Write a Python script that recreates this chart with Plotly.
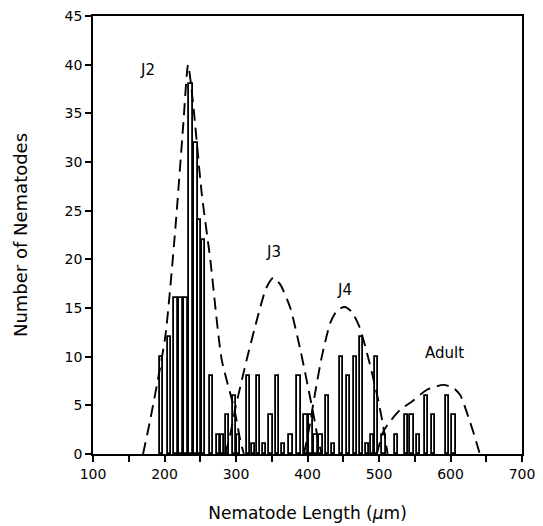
import plotly.graph_objects as go

# Histogram bars: bin centre (µm) and count
bar_length = [196, 207, 216, 223, 230, 237, 244, 249, 255, 266, 275, 281, 288, 298, 304,
              317, 324, 332, 340, 349, 358, 366, 377, 388, 398, 405, 412, 419, 428, 436,
              447, 457, 467, 476, 484, 491, 497, 507, 525, 538, 546, 555, 566, 576, 596, 605]
bar_count = [10, 12, 16, 16, 16, 38, 32, 24, 22, 8, 2, 2, 4, 6, 2,
             8, 1, 8, 1, 4, 8, 1, 2, 8, 4, 4, 2, 2, 6, 1,
             10, 8, 10, 12, 1, 2, 10, 2, 2, 4, 4, 2, 6, 4, 6, 4]

j2_x = [170, 180, 201, 215, 226, 233, 240, 252, 264, 280, 298, 306, 311]
j2_y = [0, 3.5, 12, 23, 33.6, 40, 36, 26.8, 20, 9.7, 4.5, 1.4, 0]
j3_x = [285, 292, 300, 315, 330, 342, 352, 362, 376, 390, 408, 415, 420]
j3_y = [0, 2, 5, 9.7, 14, 17, 18.1, 17.4, 15, 10.7, 4.2, 1.4, 0]
j4_x = [395, 402, 410, 420, 432, 442, 452, 462, 473, 487, 499, 506, 512]
j4_y = [0, 2.5, 6, 10, 13.5, 14.8, 15.1, 14.6, 13, 9.3, 5.5, 2.8, 0]
ad_x = [497, 506, 515, 529, 548, 567, 590, 604, 614, 625, 633, 641]
ad_y = [0, 2.3, 3.3, 4.5, 5.5, 6.6, 7.1, 6.8, 6.0, 3.8, 2.0, 0]

labels = ["J2", "J3", "J4", "Adult"]
label_x = [176, 352, 452, 592]
label_y = [39.5, 20.8, 16.9, 10.4]

x_ticks = list(range(100, 701, 50))
x_text = [str(v) if v % 100 == 0 else "" for v in x_ticks]
y_ticks = list(range(0, 46, 5))

FONT = "DejaVu Sans, Liberation Sans, sans-serif"
fig = go.Figure()
fig.add_trace(go.Bar(x=bar_length, y=bar_count, width=4.5,
                     marker=dict(color="white", line=dict(color="black", width=1.8)),
                     showlegend=False))
for cx, cy in [(j2_x, j2_y), (j3_x, j3_y), (j4_x, j4_y), (ad_x, ad_y)]:
    fig.add_trace(go.Scatter(x=cx, y=cy, mode="lines",
                             line=dict(color="black", width=1.9, dash="12px,7px", shape="spline", smoothing=0.6),
                             showlegend=False))
for t, lx, ly in zip(labels, label_x, label_y):
    fig.add_annotation(x=lx, y=ly, text=t, showarrow=False,
                       font=dict(size=15, color="black", family=FONT))

tick_font = dict(size=14, color="black", family=FONT)
title_font = dict(size=17, color="black", family=FONT)
fig.update_layout(
    width=535, height=518,
    margin=dict(l=85, r=21, t=8, b=72),
    paper_bgcolor="white", plot_bgcolor="white",
    bargap=0,
    font=tick_font,
    xaxis=dict(range=[100, 700], tickvals=x_ticks, ticktext=x_text, ticks="outside", ticklen=6,
               tickwidth=1.5, tickcolor="black", showline=True, linecolor="black", linewidth=1.8,
               mirror=True, showgrid=False, zeroline=False, tickfont=tick_font, automargin=False,
               ticklabeloverflow="allow",
               title=dict(text="Nematode Length (<i>μ</i>m)", font=title_font, standoff=26)),
    yaxis=dict(range=[0, 45], tickvals=y_ticks, ticks="outside", ticklen=6, tickwidth=1.5,
               tickcolor="black", showline=True, linecolor="black", linewidth=1.8, mirror=True,
               showgrid=False, zeroline=False, tickfont=tick_font, automargin=False,
               ticklabeloverflow="allow",
               title=dict(text="Number of Nematodes", font=dict(size=18, color="black", family=FONT),
                          standoff=32)),
)
fig.write_html("out.html")
